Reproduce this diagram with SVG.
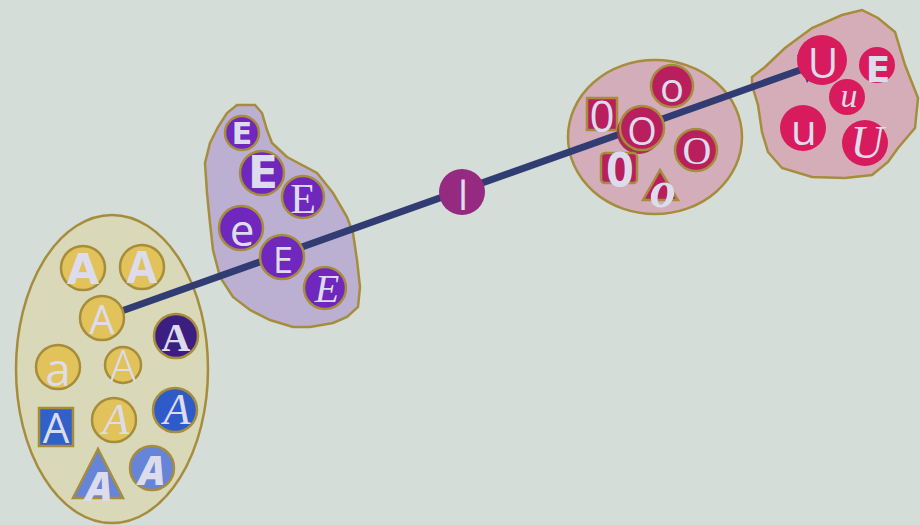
<svg xmlns="http://www.w3.org/2000/svg" width="920" height="525" viewBox="0 0 920 525">
<style>
.grp{stroke:#a68d3c;stroke-width:2.5}
.nd{stroke:#a68d3c;stroke-width:2.5}
.y{fill:#e2c25a}
.pu{fill:#6f27bd}
.mg{fill:#b81f5c}
.rd{fill:#d81b5c}
.t{fill:#dcdcec;text-anchor:middle;font-family:"Open Sans","DejaVu Sans",sans-serif}
.hv{font-family:"DejaVu Sans","Liberation Sans",sans-serif;font-weight:900}
.sr{font-family:"Liberation Serif","DejaVu Serif",serif}
.sc{font-family:"Liberation Serif","DejaVu Serif",serif;font-style:italic}
</style>
<rect width="920" height="525" fill="#d4ddd8"/>
<g id="groups">
<ellipse id="grpA" class="grp" cx="112" cy="369" rx="96" ry="154" fill="#d9d8b8"/>
<path id="grpE" class="grp" fill="#bcb0d2" d="M237,105 L255,105 L262,113 L267,130 L272,143 L287,157 L317,173 L333,193 L347,217 L353,233 L357,260 L360,287 L358,307 L347,317 L333,323 L310,327 L293,327 L270,320 L250,310 L233,297 L220,277 L213,250 L210,223 L207,193 L205,163 L210,143 L218,127 L227,113 Z"/>
<ellipse id="grpO" class="grp" cx="655" cy="137" rx="87" ry="77" fill="#d4adbb"/>
<path id="grpU" class="grp" fill="#d5adb9" d="M752,77 L765,67 L785,48 L812,28 L842,15 L862,10 L878,18 L895,32 L905,65 L918,98 L915,128 L898,148 L888,162 L872,175 L845,178 L812,177 L782,168 L768,152 L762,132 L758,105 L752,85 Z"/>
</g>
<g id="connectors">
<line x1="102" y1="318" x2="803" y2="69" stroke="#313c73" stroke-width="7"/>
<polygon points="797,55 807,83 822,62" fill="#313c73"/>
</g>
<g id="nA1"><circle class="nd y" cx="83" cy="268" r="22"/><text class="t hv" x="83" y="284" font-size="42">A</text></g>
<g id="nA2"><circle class="nd y" cx="142" cy="267" r="22"/><text class="t" font-weight="700" x="142" y="283" font-size="44">A</text></g>
<g id="nA3"><circle class="nd y" cx="102" cy="318" r="22"/><text class="t" x="102" y="334" font-size="40">A</text></g>
<g id="nA4"><circle class="nd" fill="#3b1f80" cx="176" cy="336" r="22"/><text class="t sr" font-weight="700" x="176" y="351" font-size="40">A</text></g>
<g id="nA5"><circle class="nd y" cx="58" cy="367" r="22"/><text class="t" x="58" y="386" font-size="46">a</text></g>
<g id="nA6"><circle class="nd y" cx="123" cy="365" r="18"/><text class="t" font-weight="300" x="123" y="382" font-size="44">A</text></g>
<g id="nA7"><rect class="nd" fill="#3060c8" x="39" y="408" width="34" height="38"/><text class="t" x="56" y="443" font-size="42">A</text></g>
<g id="nA8"><circle class="nd y" cx="114" cy="420" r="22"/><text class="t sc" x="116" y="434" font-size="44">A</text></g>
<g id="nA9"><circle class="nd" fill="#2f5bc8" cx="175" cy="410" r="22"/><text class="t sc" x="177" y="424" font-size="44">A</text></g>
<g id="nA10"><polygon class="nd" fill="#6684d8" points="98,449 73,498 123,498"/><text class="t" font-style="italic" font-weight="800" x="99" y="501" font-size="40">A</text></g>
<g id="nA11"><circle class="nd" fill="#6684d8" cx="152" cy="468" r="22"/><text class="t" font-style="italic" font-weight="800" x="152" y="485" font-size="40">A</text></g>
<g id="nE1"><circle class="nd pu" cx="242" cy="133" r="17"/><text class="t hv" x="242" y="144" font-size="30">E</text></g>
<g id="nE2"><circle class="nd pu" cx="262" cy="173" r="22"/><text class="t hv" x="263" y="188" font-size="44">E</text></g>
<g id="nE3"><circle class="nd pu" cx="303" cy="197" r="21"/><text class="t sr" x="303" y="213" font-size="42">E</text></g>
<g id="nE4"><circle class="nd pu" cx="241" cy="228" r="22"/><text class="t" x="242" y="246" font-size="44">e</text></g>
<g id="nE5"><circle class="nd pu" cx="282" cy="257" r="22"/><text class="t" x="283" y="273" font-size="36">E</text></g>
<g id="nE6"><circle class="nd pu" cx="325" cy="288" r="21"/><text class="t sc" x="327" y="302" font-size="40">E</text></g>
<g id="nL"><circle fill="#952a80" cx="462" cy="192" r="23"/><text class="t" x="463" y="210" font-size="40">l</text></g>
<g id="nO1"><circle class="nd mg" cx="672" cy="86" r="21"/><text class="t" x="672" y="102" font-size="40">o</text></g>
<g id="nO2"><rect class="nd mg" x="587" y="98" width="30" height="32"/><text class="t" font-family="Liberation Sans" x="602" y="132" font-size="44">0</text></g>
<g id="nO3"><circle fill="#a8304f" cx="639" cy="132" r="22"/><circle class="nd mg" cx="642" cy="128" r="22"/><text class="t" x="642" y="145" font-size="38">O</text></g>
<g id="nO4"><circle class="nd mg" cx="696" cy="150" r="21"/><text class="t sr" x="697" y="164" font-size="40">O</text></g>
<g id="nO5"><rect class="nd mg" x="601" y="153" width="36" height="30" rx="4"/><text class="t" font-family="Liberation Sans" font-weight="700" x="620" y="187" font-size="48">0</text></g>
<g id="nO6"><polygon class="nd mg" points="660,170 643,200 678,200"/><text class="t sc" font-weight="700" x="663" y="207" font-size="52">o</text></g>
<g id="nU1"><circle class="rd" cx="822" cy="60" r="25"/><text class="t" x="823" y="78" font-size="42">U</text></g>
<g id="nU2"><circle class="rd" cx="877" cy="65" r="18"/><text class="t hv" x="878" y="82" font-size="36">E</text></g>
<g id="nU3"><circle class="rd" cx="847" cy="97" r="18"/><text class="t sc" x="849" y="107" font-size="34">u</text></g>
<g id="nU4"><circle class="rd" cx="803" cy="128" r="23"/><text class="t" x="804" y="145" font-size="42">u</text></g>
<g id="nU5"><circle class="rd" cx="865" cy="143" r="23"/><text class="t sc" x="867" y="158" font-size="46">U</text></g>
</svg>
